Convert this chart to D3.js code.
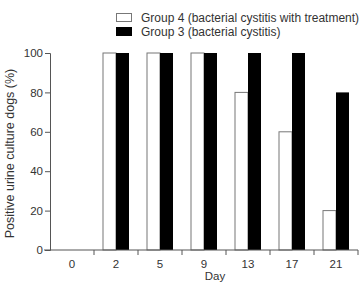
<!DOCTYPE html>
<html>
<head>
<meta charset="utf-8">
<script src="https://cdn.jsdelivr.net/npm/d3@7"></script>
<style>
  body { margin: 0; background: #fff; }
  text { font-family: "Liberation Sans", Arial, sans-serif; fill: #333; }
</style>
</head>
<body>
<div id="chart"></div>
<script>
let days = ["0", "2", "5", "9", "13", "17", "21"];
let group4 = [0, 100, 100, 100, 80, 60, 20];
let group3 = [0, 100, 100, 100, 100, 100, 80];
let yTicks = [0, 20, 40, 60, 80, 100];
let seriesNames = ["Group 4 (bacterial cystitis with treatment)", "Group 3 (bacterial cystitis)"];

function barChart() {
    let width = 359, height = 284;
    let margin = {top: 53, right: 1, bottom: 34, left: 50};

    let svg = d3.select("#chart").append("svg")
                .attr("width", width)
                .attr("height", height);

    let x = d3.scaleBand()
              .domain(days)
              .range([margin.left, width - margin.right]);

    let y = d3.scaleLinear()
              .domain([0, 100])
              .range([height - margin.bottom, margin.top]);

    let barW = 13;

    // group 4 (white bars)
    svg.selectAll("rect.g4")
       .data(days)
       .enter()
       .append("rect")
       .attr("class", "g4")
       .attr("x", function(d) { return x(d) + x.bandwidth() / 2 - barW })
       .attr("y", function(d, i) { return y(group4[i]) })
       .attr("width", barW)
       .attr("height", function(d, i) { return y(0) - y(group4[i]) })
       .attr("fill", "#fff")
       .attr("stroke", "#777")
       .attr("stroke-width", 1)
       .style("display", function(d, i) { return group4[i] > 0 ? null : "none" });

    // group 3 (black bars)
    svg.selectAll("rect.g3")
       .data(days)
       .enter()
       .append("rect")
       .attr("class", "g3")
       .attr("x", function(d) { return x(d) + x.bandwidth() / 2 })
       .attr("y", function(d, i) { return y(group3[i]) })
       .attr("width", barW)
       .attr("height", function(d, i) { return y(0) - y(group3[i]) })
       .attr("fill", "#000");

    /* y axis */
    let yAxis = d3.axisLeft(y)
        .tickValues(yTicks)
        .tickSize(5)
        .tickPadding(2);

    let gy = svg.append("g")
        .attr("transform", "translate(" + margin.left + ",0)")
        .call(yAxis);
    gy.select(".domain").attr("stroke", "#555");
    gy.selectAll(".tick line").attr("stroke", "#555");
    gy.selectAll("text").attr("font-size", 11.5).style("fill", "#333");

    /* x axis, ticks at band edges */
    let gx = svg.append("g")
        .attr("transform", "translate(0," + y(0) + ")");
    gx.append("line")
        .attr("x1", margin.left - 6).attr("x2", width - margin.right)
        .attr("stroke", "#555");
    gx.selectAll("line.tk")
        .data(days)
        .enter()
        .append("line")
        .attr("class", "tk")
        .attr("x1", function(d) { return x(d) + x.bandwidth() })
        .attr("x2", function(d) { return x(d) + x.bandwidth() })
        .attr("y1", 0).attr("y2", 5)
        .attr("stroke", "#555");
    gx.selectAll("text")
        .data(days)
        .enter()
        .append("text")
        .attr("x", function(d) { return x(d) + x.bandwidth() / 2 })
        .attr("y", 18)
        .attr("text-anchor", "middle")
        .attr("font-size", 11.5)
        .text(function(d) { return d });

    // the reference shows this label partly cut; keep it legible just inside the edge
    svg.append("text")
        .attr("x", 215)
        .attr("y", 280)
        .attr("text-anchor", "middle")
        .attr("font-size", 11.5)
        .text("Day");

    svg.append("text")
        .attr("transform", "translate(14," + ((y(0) + y(100)) / 2 + 2) + ") rotate(-90)")
        .attr("text-anchor", "middle")
        .attr("font-size", 12.5)
        .text("Positive urine culture dogs (%)");

    /* legend */
    let legend = svg.append("g");
    seriesNames.forEach(function(name, i) {
        legend.append("rect")
            .attr("x", 116.5).attr("y", 13.5 + i * 14)
            .attr("width", 15).attr("height", 8)
            .attr("fill", i === 0 ? "#fff" : "#000")
            .attr("stroke", i === 0 ? "#777" : "#000");
        legend.append("text")
            .attr("x", 141).attr("y", 22 + i * 14)
            .attr("font-size", 12)
            .text(name);
    });
}

barChart();
</script>
</body>
</html>
